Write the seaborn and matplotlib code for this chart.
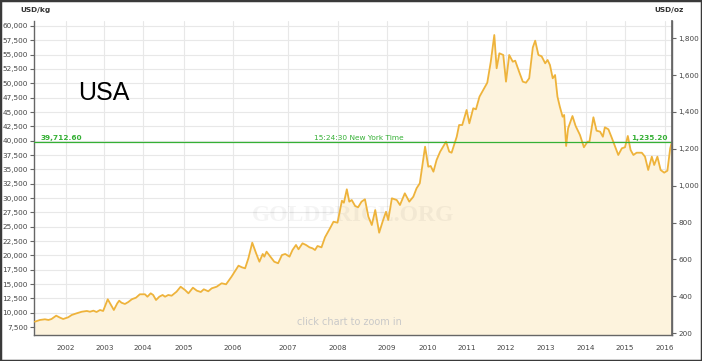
import numpy as np
import pandas as pd
import matplotlib
matplotlib.use("Agg")
import matplotlib.pyplot as plt
import seaborn as sns
from matplotlib.ticker import FuncFormatter, FixedLocator
from matplotlib.patches import Rectangle

# ---------------- data ----------------
years = [2001.21, 2001.34, 2001.47, 2001.56, 2001.64, 2001.76, 2001.86, 2001.94,
         2002.07, 2002.16, 2002.29, 2002.42, 2002.55, 2002.63, 2002.72, 2002.80, 2002.89, 2002.97,
         2003.09, 2003.19, 2003.25, 2003.34, 2003.39, 2003.45, 2003.54, 2003.63, 2003.72, 2003.83, 2003.93,
         2004.06, 2004.12, 2004.20, 2004.26, 2004.33, 2004.41, 2004.49, 2004.55, 2004.63, 2004.71, 2004.83, 2004.93,
         2005.03, 2005.10, 2005.19, 2005.27, 2005.35, 2005.41, 2005.50, 2005.57, 2005.67, 2005.77, 2005.86, 2005.97,
         2006.10, 2006.16, 2006.22, 2006.28, 2006.35, 2006.42, 2006.48, 2006.54, 2006.57, 2006.61, 2006.67,
         2006.75, 2006.82, 2006.89, 2006.95,
         2007.03, 2007.09, 2007.16, 2007.21, 2007.29, 2007.36, 2007.43, 2007.49, 2007.54, 2007.59, 2007.67,
         2007.74, 2007.84, 2007.91, 2007.99,
         2008.08, 2008.12, 2008.18, 2008.23, 2008.28, 2008.35, 2008.41, 2008.48, 2008.55, 2008.62, 2008.69,
         2008.76, 2008.84, 2008.91, 2008.98,
         2009.03, 2009.12, 2009.24, 2009.32, 2009.44, 2009.55, 2009.65, 2009.73, 2009.81, 2009.94,
         2010.02, 2010.08, 2010.15, 2010.23, 2010.32, 2010.47, 2010.55, 2010.61, 2010.74, 2010.80, 2010.88, 2010.99,
         2011.06, 2011.16, 2011.23, 2011.32, 2011.44, 2011.52, 2011.61, 2011.70, 2011.76, 2011.83, 2011.93,
         2012.00, 2012.08, 2012.17, 2012.23, 2012.33, 2012.42, 2012.50, 2012.58, 2012.67, 2012.73, 2012.81,
         2012.89, 2012.98,
         2013.04, 2013.10, 2013.17, 2013.23, 2013.29, 2013.35, 2013.42, 2013.46, 2013.51, 2013.56, 2013.67,
         2013.75, 2013.86, 2013.96,
         2014.05, 2014.10, 2014.20, 2014.28, 2014.37, 2014.44, 2014.49, 2014.58, 2014.66, 2014.75, 2014.83, 2014.92,
         2015.00, 2015.07, 2015.14, 2015.21, 2015.29, 2015.42, 2015.50, 2015.58, 2015.67, 2015.73, 2015.81,
         2015.89, 2015.98, 2016.06, 2016.13, 2016.17]

usd_per_kg = [8430, 8730, 8850, 8730, 8900, 9480, 9130, 8900,
              9200, 9600, 9900, 10170, 10300, 10170, 10350, 10120, 10470, 10300,
              12340, 11170, 10470, 11640, 12090, 11740, 11520, 11870, 12340, 12620, 13210,
              13210, 12790, 13380, 13090, 12210, 12790, 13090, 12790, 13090, 12960, 13660, 14530,
              13960, 13380, 14360, 13840, 13610, 14080, 13730, 14250, 14530, 15130, 14950, 16280,
              18200, 17920, 17740, 19490, 22210, 20360, 18890, 20240, 19770, 20640, 19890,
              18890, 18620, 20060, 20240,
              19770, 20930, 21810, 21060, 22100, 21810, 21400, 21230, 20930, 21630, 21400,
              23150, 24720, 25870, 25700,
              29530, 29180, 31520, 29360, 29650, 28610, 28380, 29360, 29780, 26740, 25290,
              27910, 23950, 25870, 27610,
              26170, 29950, 29650, 28780, 30820, 29360, 30230, 31690, 32570, 38950,
              35460, 35580, 34590, 36630, 38080, 39820, 38080, 37900, 40690, 42730, 42730, 45350,
              43030, 45650, 45470, 47670, 49130, 50110, 53770, 58430, 52620, 55240, 54940,
              50290, 54940, 53770, 53950, 51980, 50290, 50110, 50880, 56250, 57440, 54940,
              54720, 53490,
              54070, 53200, 50880, 51450, 47670, 45930, 44180, 44480, 39070, 42160, 44300,
              42560, 40990, 38850,
              39820, 39820, 44080, 41740, 41570, 40690, 42330, 41980, 40590, 38950, 37500, 38670,
              38850, 40820, 38370, 37500, 37900, 37900, 37210, 34890, 37210, 35760, 37210,
              34890, 34420, 34760, 38670, 39712.6]

current_kg = 39712.60
current_oz = 1235.20
time_label = "15:24:30 New York Time"
country = "USA"

kg_ticks = list(range(7500, 60001, 2500))
oz_ticks = list(range(200, 1801, 200))
year_ticks = list(range(2002, 2017))
# relative on-screen width of each calendar year on the source's uneven time axis (2001..2016)
year_widths = [38.8, 38.8, 38.2, 41.0, 49.5, 55.0, 50.0, 49.0, 40.5, 39.5, 39.0, 40.0, 39.5, 39.5, 40.0, 40.0]

OZ_PER_KG = 1000 / 31.1034768

# ---------------- styling ----------------
sns.set_theme(style="white")
plt.rcParams['font.family'] = ['DejaVu Sans']

LINE = "#eeb33b"
FILL = "#fdf3dd"
GREEN = "#35b035"
GRID = "#e8e8e8"
AXC = "#666666"
TXT = "#444444"
FS = 5.2

df = pd.DataFrame({"year": years, "usd_kg": usd_per_kg})

fig = plt.figure(figsize=(7.02, 3.61), dpi=100)
ax = fig.add_axes([34 / 702, 1 - 335 / 361, (672 - 34) / 702, (335 - 21) / 361])

# uneven time scale
knots_year = np.arange(2001, 2001 + len(year_widths) + 1)
knots_pos = np.concatenate([[0.0], np.cumsum(year_widths)])

def fwd(x):
    return np.interp(x, knots_year, knots_pos)

def inv(p):
    return np.interp(p, knots_pos, knots_year)

ax.set_xscale('function', functions=(fwd, inv))

ymin, ymax = 6110, 60870
ax.fill_between(df["year"], df["usd_kg"], ymin, color=FILL, linewidth=0, zorder=1)
sns.lineplot(data=df, x="year", y="usd_kg", ax=ax, color=LINE, linewidth=1.3, zorder=3)

ax.set_xlim(2001.188, 2016.175)
ax.set_ylim(ymin, ymax)

ax.xaxis.set_major_locator(FixedLocator(year_ticks))
ax.xaxis.set_major_formatter(FuncFormatter(lambda v, p: f"{int(round(v))}"))
ax.yaxis.set_major_locator(FixedLocator(kg_ticks))
ax.yaxis.set_major_formatter(FuncFormatter(lambda v, p: f"{int(v):,}"))

ax.grid(True, color=GRID, linewidth=0.8, zorder=0)
ax.set_axisbelow(True)
ax.set_xlabel("")
ax.set_ylabel("")

ax.spines["top"].set_visible(False)
for s in ["left", "bottom", "right"]:
    ax.spines[s].set_color(AXC)
    ax.spines[s].set_linewidth(1.0)

ax.tick_params(axis="both", which="major", labelsize=FS, colors=AXC, length=3, width=0.8,
               labelcolor=TXT, pad=1.5)
ax.tick_params(axis="x", pad=4)

# right axis in USD/oz
ax2 = ax.twinx()
ax2.set_ylim(ymin / OZ_PER_KG, ymax / OZ_PER_KG)
ax2.yaxis.set_major_locator(FixedLocator(oz_ticks))
ax2.yaxis.set_major_formatter(FuncFormatter(lambda v, p: f"{int(v):,}"))
ax2.tick_params(axis="y", labelsize=FS, colors=AXC, length=3, width=0.8, labelcolor=TXT, pad=1.5)
for s in ["top", "left", "bottom"]:
    ax2.spines[s].set_visible(False)
ax2.spines["right"].set_color(AXC)
ax2.grid(False)

# current price line
ax.axhline(current_kg, color=GREEN, linewidth=0.9, zorder=4)
ax.text(0.01, current_kg + 250, f"{current_kg:,.2f}", transform=ax.get_yaxis_transform(),
        color=GREEN, fontsize=5.3, fontweight="bold", ha="left", va="bottom", zorder=5)
ax.text(0.993, current_kg + 250, f"{current_oz:,.2f}", transform=ax.get_yaxis_transform(),
        color=GREEN, fontsize=5.3, fontweight="bold", ha="right", va="bottom", zorder=5)
ax.text(0.509, current_kg + 250, time_label, transform=ax.get_yaxis_transform(),
        color=GREEN, fontsize=5.3, ha="center", va="bottom", zorder=5)

# decorations
fig.text(20 / 702, 1 - 10 / 361, "USD/kg", fontsize=5.3, fontweight="bold", color="#333333",
         ha="left", va="center")
fig.text(684 / 702, 1 - 10 / 361, "USD/oz", fontsize=5.3, fontweight="bold", color="#333333",
         ha="right", va="center")
fig.text(78 / 702, 1 - 93 / 361, country, fontsize=18, color="black", ha="left", va="center",
         family=["Liberation Sans", "DejaVu Sans"])
ax.text(0.5, 0.38, "GOLDPRICE.ORG", transform=ax.transAxes, fontsize=17, fontweight="bold",
        family=["Liberation Serif", "DejaVu Serif"], color="#000000", alpha=0.045,
        ha="center", va="center", zorder=2)
ax.text(0.494, 0.04, "click chart to zoom in", transform=ax.transAxes, fontsize=7,
        color="#c9c9c9", ha="center", va="center", zorder=5)

fig.patches.append(Rectangle((0, 0), 1, 1, transform=fig.transFigure, fill=False,
                             edgecolor="#3a3a3a", linewidth=2.5, zorder=10))

fig.savefig("out.png", dpi=100)
